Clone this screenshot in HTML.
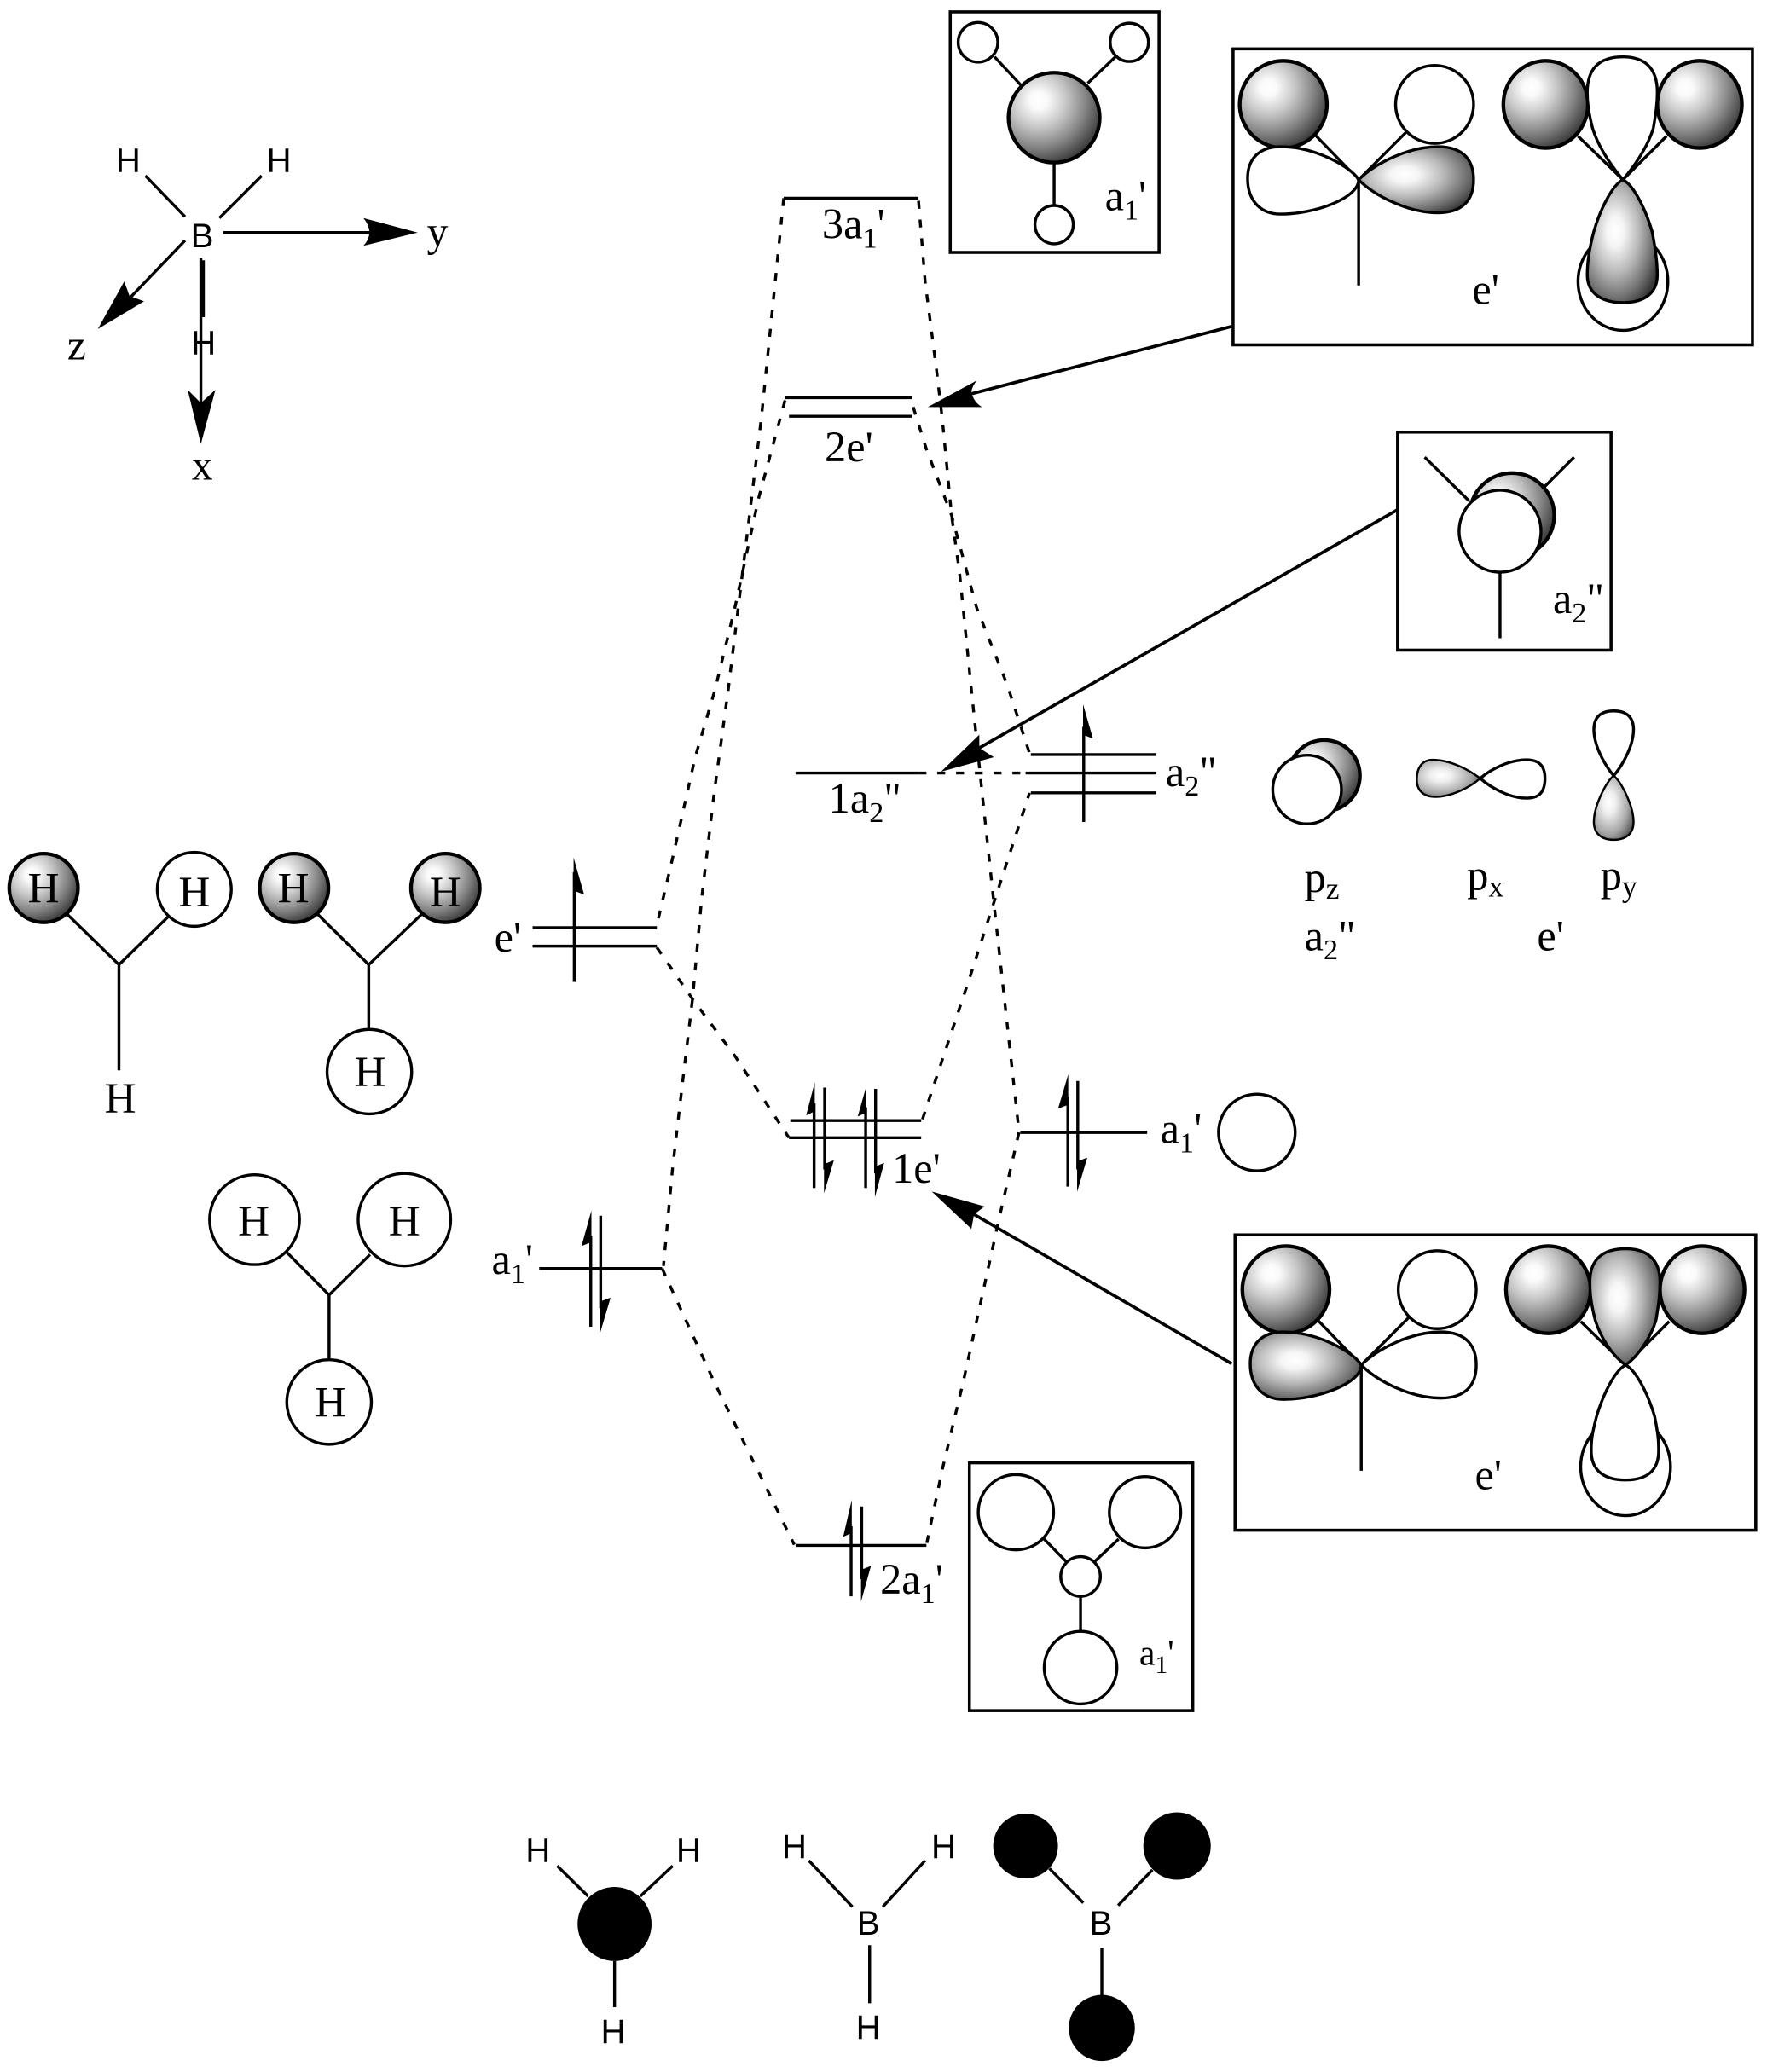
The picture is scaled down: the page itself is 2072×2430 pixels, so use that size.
<!DOCTYPE html>
<html><head><meta charset="utf-8"><title>BH3 MO diagram</title>
<style>
html,body{margin:0;padding:0;background:#fff}
svg{display:block}
.l{fill:none;stroke:#000;stroke-width:2.2}
.d{fill:none;stroke:#000;stroke-width:2.2;stroke-dasharray:6 8.2}
.o{fill:#fff;stroke:#000;stroke-width:2.2}
.b{fill:none;stroke:#000;stroke-width:2.3}
.s{fill:url(#g);stroke:#000;stroke-width:2.8}
.m{fill:url(#m);stroke:#000;stroke-width:2.2}
.n2{fill:url(#n);stroke:#000;stroke-width:1.6}
.k{fill:#000;stroke:none}
text{fill:#000}
.t{font-family:"Liberation Serif",serif;font-size:32.5px}
.h{font-family:"Liberation Serif",serif;font-size:33px;text-anchor:middle}
.n{font-family:"Liberation Sans",sans-serif;font-size:26px;text-anchor:middle}
</style></head><body>
<svg xmlns="http://www.w3.org/2000/svg" width="2072" height="2430" viewBox="0 0 1337 1568">
<defs>
<radialGradient id="g" cx=".33" cy=".31" r=".74">
<stop offset="0" stop-color="#fff"/><stop offset=".13" stop-color="#fafafa"/><stop offset=".4" stop-color="#c8c8c8"/><stop offset=".7" stop-color="#858585"/><stop offset="1" stop-color="#383838"/>
</radialGradient>
<radialGradient id="m" cx=".4" cy=".42" r=".68">
<stop offset="0" stop-color="#fff"/><stop offset=".18" stop-color="#f5f5f5"/><stop offset=".5" stop-color="#b8b8b8"/><stop offset=".8" stop-color="#707070"/><stop offset="1" stop-color="#383838"/>
</radialGradient>
<radialGradient id="n" cx=".38" cy=".42" r=".7">
<stop offset="0" stop-color="#fff"/><stop offset=".25" stop-color="#eee"/><stop offset=".7" stop-color="#a5a5a5"/><stop offset="1" stop-color="#555"/>
</radialGradient>
</defs>
<rect width="1337" height="1568" fill="#fff"/>

<!-- top-left axes -->
<text class="n" x="97" y="130">H</text><text class="n" x="211" y="130">H</text>
<text class="n" x="153" y="187">B</text><text class="n" x="154" y="268">H</text>
<path class="l" d="M110 133L140 164M198 133L166 165M169 176H290M140 182L92 232M152 195V310"/>
<path class="l" style="stroke-width:3" d="M153.500 197V240"/>
<path class="k" d="M316 176L275 165Q284 176 275 186Z"/>
<path class="k" d="M74 249L94 213L98 224L109 228Z"/>
<path class="k" d="M152 336L142 295L152 305L163 295Z"/>
<text class="h" style="font-size:32px" x="331" y="186">y</text>
<text class="h" style="font-size:32px" x="58" y="272">z</text>
<text class="h" style="font-size:32px" x="153" y="363">x</text>

<!-- levels -->
<path class="l" d="M593 150H695M594 301H690M597 315H690M602 585H695M598 848H697M597 861H697M602 1169.500H701M403 702H497M403 716H497M408 960H501M780 571H875M776 585H875M780 600H875M772 857H868"/>

<!-- dashed correlation lines -->
<path class="d" d="M593 150L576 317L561 440L551 522L540 603L531 679L524 756L516 823L509 883L502 958"/>
<path class="d" d="M594 303L574 377L556 460L541 522L526 573L509 649L497 700"/>
<path class="d" d="M695 152L700 213L709 283L713 317L720 390L726 433L735 522L743 599L752 683L760 756L771 856"/>
<path class="d" d="M691 308L701 340L720 390L739 460L762 518L779 570"/>
<path class="d" d="M698 847L735 736L752 683L779 600"/>
<path class="d" d="M771 857L756 922L729 1045L713 1112L701 1169"/>
<path class="d" d="M497 717L524 756L556 799L597 861"/>
<path class="d" d="M501 960L540 1045L601 1169"/>
<path class="d" d="M695 585H776"/>

<!-- spin arrows -->
<path class="l" d="M434.500 660V743M616 835V899M624 823V885M655 838V899M662.500 824V888M447 935V1004M454.500 920V990M644 1155V1208M652 1140V1195M820 550V622M808 830V898M815.500 818V885"/>
<path class="k" d="M434 649L442 677L434 674Z"/>
<path class="k" d="M616.500 819L610 844L616.500 841Z"/>
<path class="k" d="M623.500 903L631 878L623.500 881Z"/>
<path class="k" d="M655.500 822L649 845L655.500 842Z"/>
<path class="k" d="M662 906L669 880L662 883Z"/>
<path class="k" d="M447.500 916L440 943L447.500 940Z"/>
<path class="k" d="M454 1009L462 982L454 985Z"/>
<path class="k" d="M644.500 1135L638 1163L644.500 1160Z"/>
<path class="k" d="M651.500 1212L659 1185L651.500 1188Z"/>
<path class="k" d="M819.500 533L827 559L819.500 556Z"/>
<path class="k" d="M808.300 813L800.600 839L808.300 836Z"/>
<path class="k" d="M815 902L822.700 876L815 879Z"/>

<!-- big arrows -->
<path class="l" style="stroke-width:2.4" d="M932 247L735 298M1057 386L741 566M932 1032L737 919"/>
<path class="k" d="M702 308L739 288Q733 296 736 300Q738 305 743 308Z"/>
<path class="k" d="M712 584L741 556L741 566L752 573Z"/>
<path class="k" d="M705 901.700L745 913L737 919L735 930Z"/>

<!-- level labels -->
<text class="t" x="622" y="180.500">3a<tspan font-size="22" dy="7">1</tspan><tspan dy="-7">'</tspan></text>
<text class="t" x="624" y="349">2e'</text>
<text class="t" x="627" y="615">1a<tspan font-size="22" dy="7">2</tspan><tspan dy="-7">"</tspan></text>
<text class="t" x="675" y="895">1e'</text>
<text class="t" x="666" y="1206">2a<tspan font-size="22" dy="7">1</tspan><tspan dy="-7">'</tspan></text>
<text class="t" x="374" y="720">e'</text>
<text class="t" x="372" y="964">a<tspan font-size="22" dy="7">1</tspan><tspan dy="-7">'</tspan></text>
<text class="t" x="882" y="595">a<tspan font-size="22" dy="7">2</tspan><tspan dy="-7">"</tspan></text>
<text class="t" x="878" y="865">a<tspan font-size="22" dy="7">1</tspan><tspan dy="-7">'</tspan></text>
<text class="t" x="987" y="675">p<tspan font-size="23" dy="5">z</tspan></text>
<text class="t" x="1110" y="673.500">p<tspan font-size="23" dy="5">x</tspan></text>
<text class="t" x="1211" y="673.500">p<tspan font-size="23" dy="5">y</tspan></text>
<text class="t" x="987" y="719">a<tspan font-size="22" dy="7">2</tspan><tspan dy="-7">"</tspan></text>
<text class="t" x="1163" y="719">e'</text>

<!-- H group orbitals -->
<path class="l" d="M51 692L90 730L127 694M90 730V810"/>
<ellipse class="s" cx="33" cy="672" rx="26" ry="26"/>
<ellipse class="o" cx="147" cy="673" rx="28" ry="28"/>
<text class="h" x="33" y="683">H</text><text class="h" x="147" y="686">H</text><text class="h" x="91" y="842">H</text>

<path class="l" d="M240.500 692L279 730L320 691M279 730V779"/>
<ellipse class="s" cx="222.500" cy="672" rx="26" ry="26"/>
<ellipse class="s" cx="337" cy="672" rx="26" ry="26"/>
<ellipse class="o" cx="279.500" cy="811" rx="32" ry="32"/>
<text class="h" x="222" y="683">H</text><text class="h" x="337" y="686">H</text><text class="h" x="280" y="822">H</text>

<path class="l" d="M217 947.700L249 980L280 949.400M249 980V1029"/>
<ellipse class="o" cx="192.600" cy="923" rx="34" ry="34"/>
<ellipse class="o" cx="306" cy="923" rx="35" ry="35"/>
<ellipse class="o" cx="249" cy="1061" rx="32" ry="32"/>
<text class="h" x="192" y="935">H</text><text class="h" x="306" y="935">H</text><text class="h" x="250" y="1072">H</text>

<ellipse class="o" cx="951" cy="857" rx="29" ry="29"/>

<!-- free p orbitals -->
<ellipse class="s" cx="1002" cy="587" rx="27" ry="27"/>
<ellipse class="o" cx="989" cy="597.500" rx="26" ry="26"/>
<path class="n2" d="M1120 589C1112 583 1098 575 1084 575C1076 575 1072 581 1072 590C1072 598 1077 603 1086 603C1098 603 1112 596 1120 589Z"/>
<path class="o" d="M1120 589C1128 582 1142 575 1155 575C1165 575 1169 580 1169 589C1169 599 1165 604 1155 604C1142 604 1128 596 1120 589Z"/>
<path class="o" d="M1221 587C1215 580 1206 565 1206 552C1206 542 1212 538 1221 538C1230 538 1236 542 1236 552C1236 565 1227 580 1221 587Z"/>
<path class="n2" d="M1221 587C1215 592 1206 610 1206 622C1206 631 1212 635.500 1221 635.500C1230 635.500 1236 631 1236 622C1236 610 1227 592 1221 587Z"/>

<!-- box a1' top -->
<rect class="b" x="719" y="9" width="158" height="182"/>
<path class="l" d="M752.500 43L773 65M844 43L823 63M797.600 124V155"/>
<ellipse class="o" cx="740" cy="32" rx="15" ry="15"/>
<ellipse class="o" cx="854.500" cy="32" rx="14.500" ry="14.500"/>
<ellipse class="o" cx="797.600" cy="170" rx="14.500" ry="14.500"/>
<ellipse class="s" cx="797.600" cy="89" rx="34.500" ry="34"/>
<text class="t" x="836" y="159">a<tspan font-size="22" dy="7">1</tspan><tspan dy="-7">'</tspan></text>

<!-- box e' top -->
<rect class="b" x="933" y="37" width="393" height="224"/>
<path class="l" d="M995 102L1028 136L1064 100M1028 136V216M1194 103L1228 136L1261 103"/>
<ellipse class="s" cx="971" cy="79" rx="33" ry="33"/>
<ellipse class="o" cx="1085.500" cy="79" rx="29.500" ry="29.500"/>
<path class="o" d="M1028 136C1022 126 995 111 969 111C952 111 944 121 944 135C944 152 954 162 969 162C995 162 1028 150 1028 136Z"/>
<path class="m" d="M1028 136C1040 124 1065 111 1088 111C1108 111 1115 122 1115 136C1115 152 1106 161 1088 161C1065 161 1040 148 1028 136Z"/>
<ellipse class="s" cx="1169.500" cy="79" rx="32" ry="33"/>
<ellipse class="s" cx="1286" cy="79" rx="32" ry="33"/>
<ellipse class="o" cx="1228" cy="213" rx="34" ry="37"/>
<path class="o" d="M1228 136C1218 124 1209 110 1205 97C1202 85 1201 78 1201 70C1201 50 1212 43 1228 43C1243 43 1254 50 1254 70C1254 78 1253 85 1251 97C1247 110 1238 124 1228 136Z"/>
<path class="m" d="M1228 136C1220 140 1211 158 1206 175C1202 190 1201 200 1201 208C1201 222 1212 229 1228 229C1244 229 1254 222 1254 208C1254 200 1253 190 1250 175C1245 158 1236 140 1228 136Z"/>
<text class="t" x="1114" y="230">e'</text>

<!-- box a2'' -->
<rect class="b" x="1057.500" y="327" width="161.500" height="165"/>
<path class="l" d="M1078 346L1111.500 379M1191 346L1168 369M1135 433V483"/>
<ellipse class="s" cx="1144" cy="390" rx="32" ry="32"/>
<ellipse class="o" cx="1135" cy="402" rx="31" ry="31"/>
<text class="t" x="1175" y="464">a<tspan font-size="22" dy="7">2</tspan><tspan dy="-7">"</tspan></text>

<!-- box e' bottom -->
<rect class="b" x="934.500" y="934.500" width="394" height="223.500"/>
<path class="l" d="M997 999L1030 1033L1066 997M1030 1033V1113M1196 1000L1230 1033L1263 1000"/>
<ellipse class="s" cx="973" cy="976" rx="33" ry="33"/>
<ellipse class="o" cx="1087.500" cy="976" rx="29.500" ry="29.500"/>
<path class="m" transform="translate(2 897)" d="M1028 136C1022 126 995 111 969 111C952 111 944 121 944 135C944 152 954 162 969 162C995 162 1028 150 1028 136Z"/>
<path class="o" transform="translate(2 897)" d="M1028 136C1040 124 1065 111 1088 111C1108 111 1115 122 1115 136C1115 152 1106 161 1088 161C1065 161 1040 148 1028 136Z"/>
<ellipse class="s" cx="1171.500" cy="976" rx="32" ry="33"/>
<ellipse class="s" cx="1288" cy="976" rx="32" ry="33"/>
<ellipse class="o" cx="1230" cy="1110" rx="34" ry="37"/>
<path class="m" transform="translate(2 902)" d="M1228 131C1218 124 1209 110 1205 97C1202 85 1201 78 1201 68C1201 50 1212 43 1228 43C1243 43 1254 50 1254 68C1254 78 1253 85 1251 97C1247 110 1238 124 1228 131Z"/>
<path class="o" d="M1230 1033C1222 1037 1213 1055 1208 1072C1204 1087 1204 1092 1204 1098C1204 1113 1214 1120 1230 1120C1246 1120 1255 1113 1255 1098C1255 1092 1255 1087 1252 1072C1247 1055 1238 1037 1230 1033Z"/>
<text class="t" x="1116" y="1127">e'</text>

<!-- box a1' bottom -->
<rect class="b" x="733.500" y="1107" width="169" height="187.500"/>
<path class="l" d="M790 1164.700L807 1182M846.400 1164.700L828 1182M817.600 1208V1235"/>
<ellipse class="o" cx="768.700" cy="1144.400" rx="28.500" ry="28.500"/>
<ellipse class="o" cx="866.400" cy="1144.400" rx="27" ry="27"/>
<ellipse class="o" cx="817.600" cy="1193" rx="15" ry="15"/>
<ellipse class="o" cx="817.600" cy="1262" rx="27.500" ry="27.500"/>
<text class="t" style="font-size:27px" x="862" y="1260">a<tspan font-size="19" dy="6">1</tspan><tspan dy="-6">'</tspan></text>

<!-- bottom row -->
<ellipse class="k" cx="465" cy="1456" rx="28" ry="28"/>
<path class="l" d="M421.600 1412L445 1435M509 1412L484.500 1435M465 1484V1519"/>
<text class="n" x="407" y="1409">H</text><text class="n" x="521" y="1409">H</text><text class="n" x="464" y="1546">H</text>

<path class="l" d="M612 1408L645 1443M700 1408L668 1443M658 1472V1516"/>
<text class="n" x="601" y="1406">H</text><text class="n" x="714" y="1406">H</text><text class="n" x="657" y="1464">B</text><text class="n" x="657" y="1543">H</text>

<ellipse class="k" cx="776" cy="1397" rx="24.500" ry="24.500"/>
<ellipse class="k" cx="890.600" cy="1397" rx="25.500" ry="25.500"/>
<ellipse class="k" cx="833.700" cy="1534.700" rx="25" ry="25"/>
<path class="l" d="M794 1414L819.700 1440M872 1415L846 1442M833.700 1474V1510"/>
<text class="n" x="833" y="1464">B</text>
</svg>
</body></html>
